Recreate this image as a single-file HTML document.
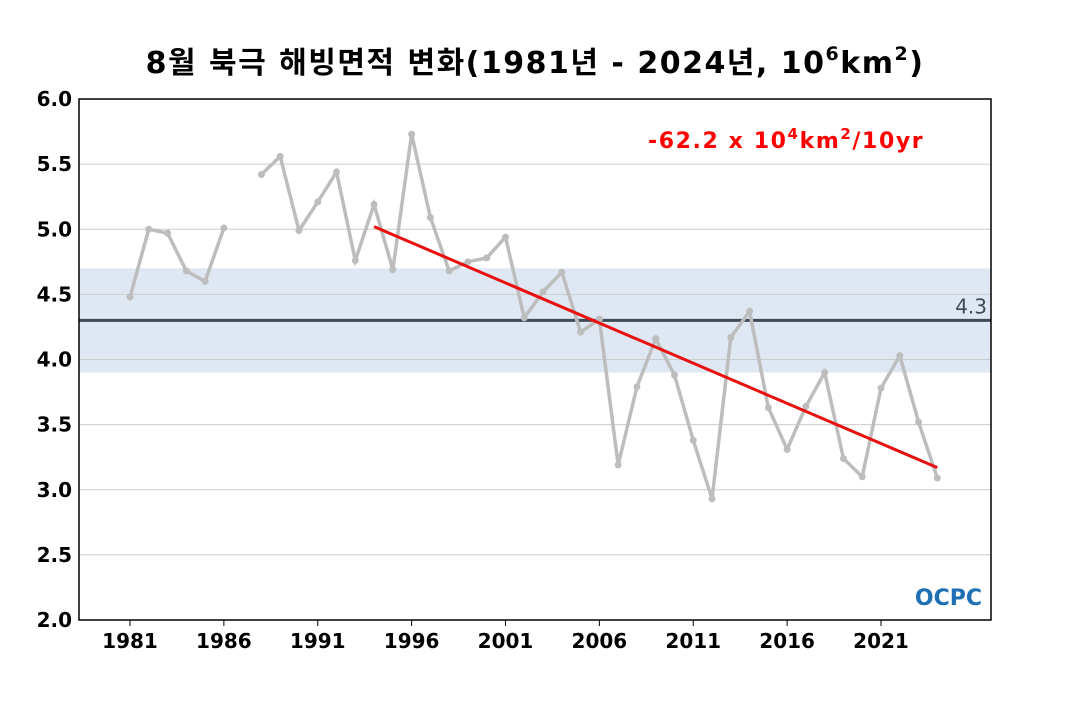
<!DOCTYPE html>
<html><head><meta charset="utf-8"><style>
body{margin:0;background:#fff;}
svg text{font-family:"DejaVu Sans","Noto Sans CJK KR",sans-serif;}
</style></head><body>
<svg width="1070" height="700" viewBox="0 0 1070 700" xmlns="http://www.w3.org/2000/svg">
<text x="535" y="73" text-anchor="middle" font-size="30" font-weight="bold" letter-spacing="1.5">8월 북극 해빙면적 변화(1981년 - 2024년, 10<tspan dy="-13" font-size="19">6</tspan><tspan dy="13">km</tspan><tspan dy="-13" font-size="19">2</tspan><tspan dy="13">)</tspan></text>
<g id="plot"></g>
</svg>
<script>
const years=[1981,1982,1983,1984,1985,1986,1987,1988,1989,1990,1991,1992,1993,1994,1995,1996,1997,1998,1999,2000,2001,2002,2003,2004,2005,2006,2007,2008,2009,2010,2011,2012,2013,2014,2015,2016,2017,2018,2019,2020,2021,2022,2023,2024];
const extent=[4.48,5.00,4.97,4.68,4.60,5.01,null,5.42,5.56,4.99,5.21,5.44,4.76,5.19,4.69,5.73,5.09,4.68,4.75,4.78,4.94,4.32,4.52,4.67,4.21,4.31,3.19,3.79,4.16,3.88,3.38,2.93,4.17,4.37,3.63,3.31,3.64,3.90,3.24,3.10,3.78,4.03,3.52,3.09];
const yTicks=[2.0,2.5,3.0,3.5,4.0,4.5,5.0,5.5,6.0];
const xTicks=[1981,1986,1991,1996,2001,2006,2011,2016,2021];
const meanVal=[4.3];
const band=[3.9,4.7];
const trendYears=[1994,2024];
const trendVals=[5.02,3.17];
const NS="http://www.w3.org/2000/svg";
const L=79,R=991,T=99,B=620;
const X=y=>130+(y-1981)*(881-130)/40;
const Y=v=>B-(v-2)*(B-T)/4;
const g=document.getElementById('plot');
function mk(t,a,p){const e=document.createElementNS(NS,t);for(const k in a)e.setAttribute(k,a[k]);(p||g).appendChild(e);return e;}
let e=mk('rect',{x:L,y:Y(band[1]),width:R-L,height:Y(band[0])-Y(band[1]),fill:'#dfe8f2'});


yTicks.forEach(v=>{
 if(v>2&&v<6){const l=mk('line',{x1:L,x2:R,y1:Y(v),y2:Y(v),stroke:'#ccc','stroke-width':1});
 
 }
 const t=mk('text',{x:72,y:Y(v)+7,'text-anchor':'end','font-size':20,'font-weight':'bold'});t.textContent=v.toFixed(1);
 
 
});
xTicks.forEach(y=>{
 const l=mk('line',{x1:X(y),x2:X(y),y1:B,y2:B+6,stroke:'#000'});
 
 
 const t=mk('text',{x:X(y),y:648,'text-anchor':'middle','font-size':20,'font-weight':'bold'});t.textContent=y;
 
 
});
e=mk('line',{x1:L,x2:R,y1:Y(meanVal[0]),y2:Y(meanVal[0]),stroke:'#3f4a57','stroke-width':3});


e=mk('text',{x:987,y:Y(meanVal[0])-7,'text-anchor':'end','font-size':20,fill:'#3f4a57'});e.textContent=meanVal[0].toFixed(1);


let segs=[],cur=[];
years.forEach((y,i)=>{if(extent[i]==null){if(cur.length)segs.push(cur);cur=[];}else cur.push(X(y)+','+Y(extent[i]));});
if(cur.length)segs.push(cur);
segs.forEach(s=>{const p=mk('polyline',{points:s.join(' '),fill:'none',stroke:'#bdbdbd','stroke-width':3.5});
 
 });
years.forEach((y,i)=>{if(extent[i]==null)return;const c=mk('circle',{cx:X(y),cy:Y(extent[i]),r:3.5,fill:'#bdbdbd'});
 
 });
e=mk('line',{x1:X(trendYears[0]),y1:Y(trendVals[0]),x2:X(trendYears[1]),y2:Y(trendVals[1]),stroke:'#e81010','stroke-width':3});


e=mk('text',{x:648,y:148,'font-size':22,'font-weight':'bold','letter-spacing':'1.6',fill:'#f00'});
e.innerHTML='-62.2 x 10<tspan dy="-9" font-size="15">4</tspan><tspan dy="9">km</tspan><tspan dy="-9" font-size="15">2</tspan><tspan dy="9">/10yr</tspan>';


e=mk('text',{x:982,y:605,'text-anchor':'end','font-size':22,'font-weight':'bold',fill:'#1f6fb5'});e.textContent='OCPC';


e=mk('rect',{x:L,y:T,width:R-L,height:B-T,fill:'none',stroke:'#000','stroke-width':1.5});


</script>
</body></html>
